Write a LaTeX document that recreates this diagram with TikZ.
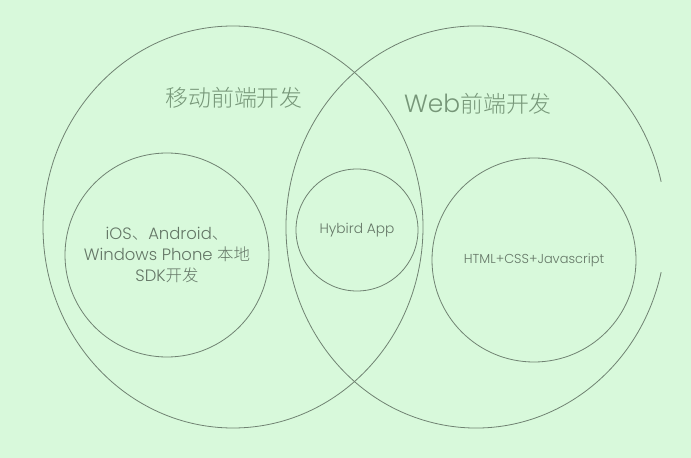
\documentclass[tikz,border=0pt]{standalone}
\usepackage{fontspec}
\setmainfont{Poppins}[UprightFont=* Light]
\newfontfamily\cjk{Noto Sans CJK SC}[UprightFont=* Light]
\definecolor{bggreen}{RGB}{216,249,219}
\definecolor{linegrey}{RGB}{112,130,114}
\definecolor{titlegreen}{RGB}{118,150,120}
\definecolor{textgrey}{RGB}{100,118,102}

\tikzset{
  ring/.style={draw=linegrey, line width=0.8bp},
  inner/.style={ring, circle, inner sep=0pt, align=center, text=textgrey},
  title/.style={text=titlegreen, inner sep=0pt}
}

\begin{document}
\begin{tikzpicture}[x=1bp,y=-1bp]
% Background
\fill[bggreen] (0,0) rectangle (691,458);
\useasboundingbox (0,0) rectangle (691,458);

% Big areas
\coordinate (mobile) at (233,227);
\coordinate (web) at (476,227);
\draw[ring] (mobile) ellipse[x radius=190, y radius=201];
\draw[ring] ([shift={(13:190 and 201)}]web) arc[start angle=13, end angle=347, x radius=190, y radius=201];

% Titles
\node[title, font=\fontsize{23}{26}\selectfont\cjk] (mtitle) at (234,98) {移动前端开发};
\node[title, font=\fontsize{23}{26}\selectfont] (wtitle) at (478,104) {\fontsize{25}{28}\selectfont Web\cjk\fontsize{23}{26}\selectfont 前端开发};

% Inner circles
\node[inner, minimum size=204bp, font=\fontsize{16.5}{21}\selectfont] (native) at (167,255)
  {iOS{\cjk 、}Android{\cjk 、}\\Windows Phone {\cjk 本地}\\SDK{\cjk 开发}};
\node[inner, minimum size=122bp, font=\fontsize{13.8}{15}\selectfont] (hybrid) at (357,230) {Hybird App};
\node[inner, minimum size=204bp, font=\fontsize{13}{15}\selectfont] (html) at (534,260) {HTML+CSS+Javascript};
\end{tikzpicture}
\end{document}
